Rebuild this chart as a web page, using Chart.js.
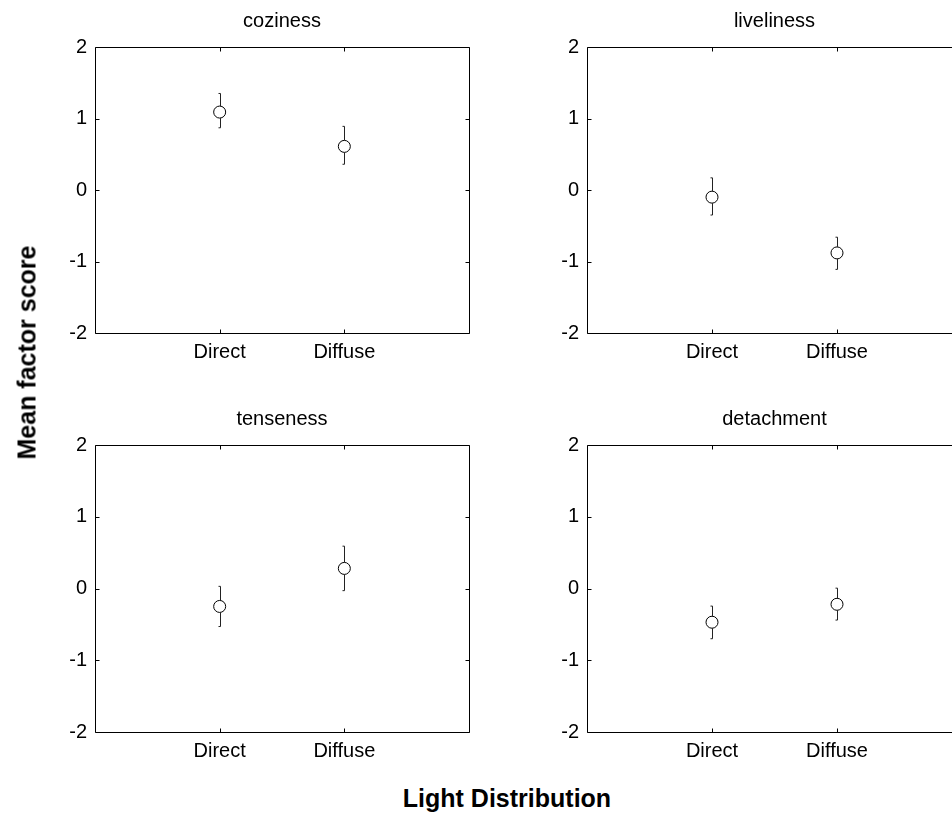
<!DOCTYPE html>
<html>
<head>
<meta charset="utf-8">
<title>Mean factor score by light distribution</title>
<script src="https://cdn.jsdelivr.net/npm/chart.js@4.4.1/dist/chart.umd.min.js"></script>
<style>
  html, body { margin: 0; padding: 0; background: #fff; width: 952px; height: 816px; overflow: hidden; }
  canvas { position: absolute; }
  .axis-title {
    position: absolute;
    font-family: 'Liberation Sans', Arial, sans-serif;
    font-weight: bold;
    font-size: 25px;
    line-height: 25px;
    color: #000;
    white-space: nowrap;
    text-align: center;
  }
  #xTitle { left: 307px; width: 400px; top: 786px; }
  #yTitle { left: -123px; width: 300px; top: 340px; height: 25px; transform: rotate(-90deg); }
</style>
</head>
<body>
<canvas id="panel0"></canvas>
<canvas id="panel1"></canvas>
<canvas id="panel2"></canvas>
<canvas id="panel3"></canvas>
<div class="axis-title" id="xTitle">Light Distribution</div>
<div class="axis-title" id="yTitle">Mean factor score</div>

<script>
// Conditions on the x axis and tick values on the y axis
const categories = ['Direct', 'Diffuse'];
const yTickValues = [-2, -1, 0, 1, 2];
const factorNames = ['coziness', 'liveliness', 'tenseness', 'detachment'];

// Mean factor scores with lower / upper ends of the error bars
const cozinessMean = [1.09, 0.61];
const cozinessLow  = [0.87, 0.36];
const cozinessHigh = [1.35, 0.89];

const livelinessMean = [-0.10, -0.88];
const livelinessLow  = [-0.35, -1.11];
const livelinessHigh = [0.17, -0.66];

const tensenessMean = [-0.25, 0.28];
const tensenessLow  = [-0.53, -0.03];
const tensenessHigh = [0.03, 0.59];

const detachmentMean = [-0.47, -0.22];
const detachmentLow  = [-0.70, -0.44];
const detachmentHigh = [-0.245, 0.005];

const seriesMeans = [cozinessMean, livelinessMean, tensenessMean, detachmentMean];
const seriesLows  = [cozinessLow, livelinessLow, tensenessLow, detachmentLow];
const seriesHighs = [cozinessHigh, livelinessHigh, tensenessHigh, detachmentHigh];

// Placement of each subplot canvas and its plotting box (page pixels)
const panelLayout = [
  { left: 40,  top: 0,   width: 440, height: 380, area: { l: 95,  r: 469, t: 47,  b: 333 } },
  { left: 532, top: 0,   width: 440, height: 380, area: { l: 587, r: 962, t: 47,  b: 333 } },
  { left: 40,  top: 398, width: 440, height: 380, area: { l: 95,  r: 469, t: 445, b: 732 } },
  { left: 532, top: 398, width: 440, height: 380, area: { l: 587, r: 962, t: 445, b: 732 } }
];

const FONT = "'Liberation Sans', Arial, sans-serif";
const TICK_LEN = 4;

// Box around the axes with short inward tick marks on all four sides
const framePlugin = {
  id: 'frame',
  afterDraw(chart) {
    const { ctx, chartArea, scales } = chart;
    const l = Math.round(chartArea.left) + 0.5;
    const r = Math.round(chartArea.right) + 0.5;
    const t = Math.round(chartArea.top) + 0.5;
    const b = Math.round(chartArea.bottom) + 0.5;
    ctx.save();
    ctx.strokeStyle = '#000';
    ctx.lineWidth = 1;
    ctx.beginPath();
    ctx.rect(l, t, r - l, b - t);
    scales.y.ticks.forEach(tk => {
      const py = Math.round(scales.y.getPixelForValue(tk.value)) + 0.5;
      ctx.moveTo(l, py); ctx.lineTo(l + TICK_LEN, py);
      ctx.moveTo(r, py); ctx.lineTo(r - TICK_LEN, py);
    });
    scales.x.ticks.forEach(tk => {
      const px = Math.round(scales.x.getPixelForValue(tk.value)) + 0.5;
      ctx.moveTo(px, b); ctx.lineTo(px, b - TICK_LEN);
      ctx.moveTo(px, t); ctx.lineTo(px, t + TICK_LEN);
    });
    ctx.stroke();
    ctx.restore();
  }
};

// Vertical error bars with small end caps, leaving the circle marker open
const errorBarPlugin = {
  id: 'errorBars',
  afterDatasetsDraw(chart) {
    const { ctx, scales: { x, y } } = chart;
    chart.data.datasets.forEach(ds => {
      const r = ds.pointRadius;
      ds.data.forEach((pt, i) => {
        const cx = Math.round(x.getPixelForValue(pt.x)) + 0.5;
        const cy = y.getPixelForValue(pt.y);
        const yHi = y.getPixelForValue(ds.errHigh[i]);
        const yLo = y.getPixelForValue(ds.errLow[i]);
        ctx.save();
        ctx.strokeStyle = '#222';
        ctx.lineWidth = 1;
        ctx.beginPath();
        ctx.moveTo(cx, yHi); ctx.lineTo(cx, cy - r);
        ctx.moveTo(cx, cy + r); ctx.lineTo(cx, yLo);
        ctx.moveTo(cx - 2, yHi); ctx.lineTo(cx, yHi);
        ctx.moveTo(cx - 2, yLo); ctx.lineTo(cx, yLo);
        ctx.stroke();
        ctx.restore();
      });
    });
  }
};

panelLayout.forEach((p, k) => {
  const canvas = document.getElementById('panel' + k);
  canvas.width = p.width;
  canvas.height = p.height;
  canvas.style.left = p.left + 'px';
  canvas.style.top = p.top + 'px';
  canvas.style.width = p.width + 'px';
  canvas.style.height = p.height + 'px';

  const yAxisWidth = p.area.l - p.left;
  const xAxisHeight = p.top + p.height - p.area.b;
  const padRight = p.left + p.width - p.area.r;

  const means = seriesMeans[k];
  const points = categories.map((c, i) => ({ x: i + 1, y: means[i] }));

  new Chart(canvas, {
    type: 'scatter',
    data: {
      datasets: [{
        data: points,
        errLow: seriesLows[k],
        errHigh: seriesHighs[k],
        showLine: false,
        pointStyle: 'circle',
        pointRadius: 6,
        pointHoverRadius: 6,
        pointBorderWidth: 1,
        pointBorderColor: '#000',
        pointBackgroundColor: 'rgba(0,0,0,0)'
      }]
    },
    options: {
      responsive: false,
      animation: false,
      events: [],
      layout: { padding: { top: 0, right: padRight, bottom: 0, left: 0 } },
      plugins: {
        legend: { display: false },
        tooltip: { enabled: false },
        title: {
          display: true,
          text: factorNames[k],
          fullSize: false,
          color: '#000',
          font: { family: FONT, size: 20, weight: 'normal' },
          padding: { top: 9, bottom: 14 }
        }
      },
      scales: {
        x: {
          type: 'linear',
          min: 0,
          max: categories.length + 1,
          afterBuildTicks: s => { s.ticks = categories.map((c, i) => ({ value: i + 1 })); },
          afterFit: s => { s.height = xAxisHeight; },
          ticks: {
            callback: v => categories[v - 1],
            color: '#000',
            font: { family: FONT, size: 20 },
            padding: 7,
            maxRotation: 0,
            autoSkip: false
          },
          grid: { display: false, drawTicks: false },
          border: { display: false }
        },
        y: {
          type: 'linear',
          min: yTickValues[0],
          max: yTickValues[yTickValues.length - 1],
          afterBuildTicks: s => { s.ticks = yTickValues.map(v => ({ value: v })); },
          afterFit: s => { s.width = yAxisWidth; },
          ticks: {
            callback: v => String(v),
            color: '#000',
            font: { family: FONT, size: 20 },
            padding: 8
          },
          grid: { display: false, drawTicks: false },
          border: { display: false }
        }
      }
    },
    plugins: [framePlugin, errorBarPlugin]
  });
});
</script>
</body>
</html>
